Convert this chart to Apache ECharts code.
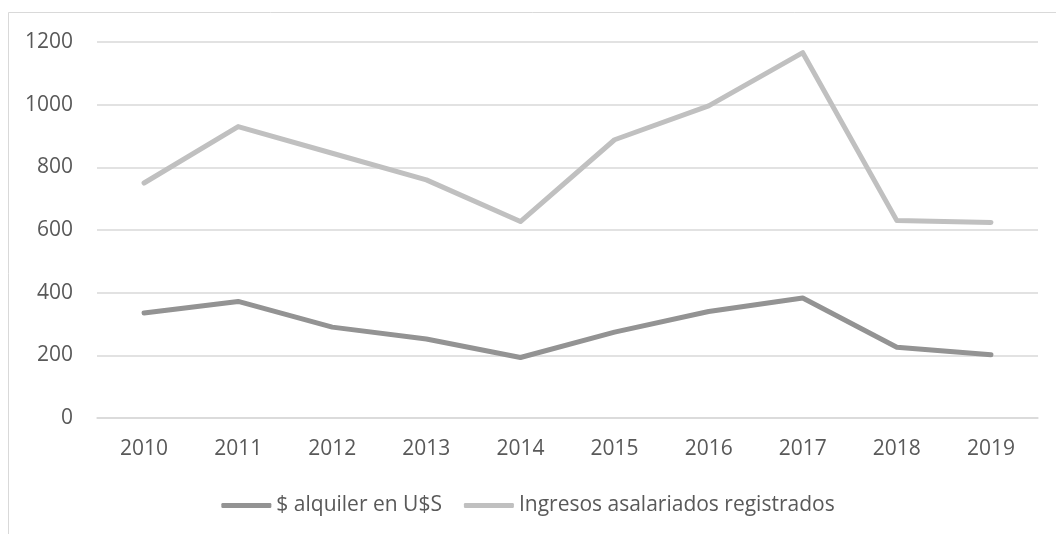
<!DOCTYPE html>
<html>
<head>
<meta charset="utf-8">
<script src="https://cdn.jsdelivr.net/npm/echarts@6/dist/echarts.min.js"></script>
<style>
  html, body { margin: 0; padding: 0; background: #ffffff; }
  #chart { width: 1056px; height: 534px; }
</style>
</head>
<body>
<div id="chart"></div>
<script>
// Years on the category axis
const years = ['2010', '2011', '2012', '2013', '2014', '2015', '2016', '2017', '2018', '2019'];

// Monthly rent in US dollars
const alquilerUSD = [335, 372, 290, 252, 193, 274, 340, 383, 226, 202];

// Registered wage earners' income
const ingresosAsalariados = [750, 930, 845, 760, 627, 888, 996, 1166, 630, 624];

const seriesNames = ['$ alquiler en U$S', 'Ingresos asalariados registrados'];

const font = '"Open Sans", "Liberation Sans", sans-serif';
const textColor = '#595959';

const chart = echarts.init(document.getElementById('chart'), null, { renderer: 'canvas' });

chart.setOption({
  animation: false,
  backgroundColor: '#ffffff',
  graphic: [{
    type: 'rect',
    silent: true,
    shape: { x: 8.5, y: 12.5, width: 1200, height: 700 },
    style: { fill: 'none', stroke: '#d9d9d9', lineWidth: 1 }
  }],
  grid: { left: 97, right: 18, top: 42, bottom: 116, containLabel: false },
  legend: {
    data: seriesNames,
    left: 'center',
    top: 490,
    icon: 'roundRect',
    itemWidth: 50,
    itemHeight: 5,
    itemGap: 22,
    textStyle: { color: textColor, fontFamily: font, fontSize: 21 }
  },
  xAxis: {
    type: 'category',
    data: years,
    boundaryGap: true,
    axisLine: { show: true, lineStyle: { color: '#d9d9d9', width: 1.5 } },
    axisTick: { show: false },
    axisLabel: { color: textColor, fontFamily: font, fontSize: 21, margin: 21 }
  },
  yAxis: {
    type: 'value',
    min: 0,
    max: 1200,
    interval: 200,
    axisLine: { show: false },
    axisTick: { show: false },
    axisLabel: {
      color: textColor, fontFamily: font, fontSize: 21, margin: 24,
      formatter: (v) => String(v)
    },
    splitLine: { lineStyle: { color: '#d9d9d9', width: 1.5 } }
  },
  series: [
    {
      name: seriesNames[0],
      type: 'line',
      data: alquilerUSD,
      symbol: 'none',
      showSymbol: false,
      itemStyle: { color: '#939393' },
      lineStyle: { color: '#939393', width: 5, cap: 'round', join: 'round' }
    },
    {
      name: seriesNames[1],
      type: 'line',
      data: ingresosAsalariados,
      symbol: 'none',
      showSymbol: false,
      itemStyle: { color: '#c0c0c0' },
      lineStyle: { color: '#c0c0c0', width: 5, cap: 'round', join: 'round' }
    }
  ]
});
</script>
</body>
</html>
